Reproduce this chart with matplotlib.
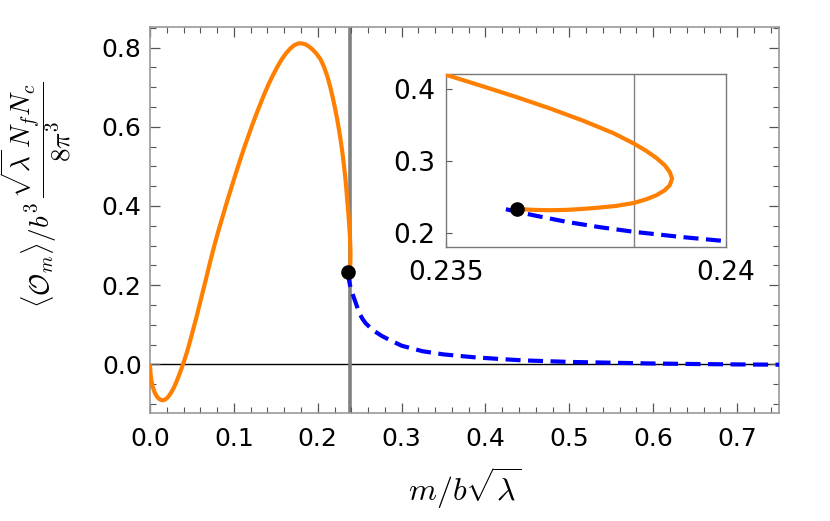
import matplotlib
matplotlib.use("Agg")
import matplotlib.pyplot as plt
from matplotlib.ticker import MultipleLocator, FixedLocator

plt.rcParams['mathtext.fontset'] = 'cm'
plt.rcParams['font.family'] = ['DejaVu Sans']

# stable (orange) branch
orange_x = [0.0, 0.0005, 0.0015, 0.003, 0.005, 0.0075, 0.010, 0.0125, 0.015, 0.0175,
            0.020, 0.0225, 0.025, 0.028, 0.031, 0.034, 0.037, 0.040, 0.044, 0.048,
            0.052, 0.056, 0.060, 0.064, 0.068, 0.072, 0.077, 0.082, 0.087, 0.092,
            0.097, 0.102, 0.107, 0.112, 0.117, 0.122, 0.127, 0.132, 0.137, 0.142,
            0.147, 0.152, 0.157, 0.162, 0.167, 0.172, 0.177, 0.181, 0.185, 0.189,
            0.1937, 0.1985, 0.2035, 0.2077, 0.2115, 0.2150, 0.2180, 0.2207, 0.2232,
            0.2254, 0.2274, 0.2292, 0.2308, 0.2320, 0.2332, 0.2342,
            0.235, 0.235667, 0.236262, 0.236857, 0.237452, 0.237988, 0.238363,
            0.238583, 0.238762, 0.238911, 0.239, 0.239042, 0.239, 0.238911,
            0.238762, 0.238583, 0.238363, 0.238048, 0.23775, 0.237452, 0.237155,
            0.236857, 0.23656, 0.236274]
orange_y = [0.0, -0.020, -0.038, -0.055, -0.068, -0.079, -0.086, -0.0895, -0.091, -0.0895,
            -0.086, -0.080, -0.072, -0.061, -0.047, -0.031, -0.014, 0.004, 0.030, 0.060,
            0.092, 0.124, 0.158, 0.192, 0.226, 0.261, 0.302, 0.340, 0.376, 0.412,
            0.446, 0.480, 0.513, 0.545, 0.575, 0.605, 0.633, 0.660, 0.686, 0.710,
            0.732, 0.752, 0.770, 0.785, 0.797, 0.806, 0.8105, 0.8105, 0.8085, 0.8035,
            0.7955, 0.7845, 0.770, 0.750, 0.727, 0.700, 0.673, 0.646, 0.619,
            0.592, 0.565, 0.538, 0.511, 0.488, 0.464, 0.441,
            0.4194, 0.4032, 0.38846, 0.37276, 0.35568, 0.33860, 0.32382,
            0.31367, 0.30397, 0.29381, 0.28458, 0.27535, 0.26611, 0.25919,
            0.25226, 0.24672, 0.24164, 0.23749, 0.23518, 0.23333, 0.23195,
            0.23149, 0.23195, 0.23333]

# unstable (blue dashed) branch
blue_x = [0.236071, 0.23656, 0.237155, 0.23775, 0.238363, 0.239179, 0.240, 0.2425,
          0.245, 0.2497, 0.253, 0.257, 0.2655, 0.2765, 0.2857, 0.30, 0.325, 0.35,
          0.385, 0.42, 0.444, 0.50, 0.55, 0.60, 0.65, 0.70, 0.75]
blue_y = [0.23287, 0.22456, 0.21533, 0.20794, 0.20148, 0.19455, 0.18855, 0.172,
          0.157, 0.129, 0.116, 0.104, 0.0866, 0.0715, 0.0614, 0.047, 0.033, 0.025,
          0.018, 0.013, 0.010, 0.006, 0.004, 0.002, 0.0007, -0.0003, -0.001]

transition_x = 0.23836
dot_x, dot_y = 0.236274, 0.23333

ORANGE = '#FF8000'
BLUE = '#0000FF'
FRAME = '#999999'

fig = plt.figure(figsize=(8.30, 5.21), dpi=100)
ax = fig.add_axes([0.1807, 0.2073, 0.9386 - 0.1807, 0.9482 - 0.2073])

ax.axhline(0, color='black', lw=1.0, zorder=1)
ax.axvline(transition_x, color='#808080', lw=2.6, zorder=1)
ax.plot(orange_x, orange_y, color=ORANGE, lw=3.0, solid_capstyle='butt',
        solid_joinstyle='round', zorder=3)
ax.plot(blue_x, blue_y, color=BLUE, lw=3.0, dashes=(3.6, 1.8),
        dash_capstyle='butt', zorder=3)
ax.plot([dot_x], [dot_y], 'o', color='black', ms=9.5, zorder=4)

ax.set_xlim(0, 0.75)
ax.set_ylim(-0.123, 0.852)
ax.xaxis.set_major_locator(MultipleLocator(0.1))
ax.xaxis.set_minor_locator(MultipleLocator(0.02))
ax.yaxis.set_major_locator(MultipleLocator(0.2))
ax.yaxis.set_minor_locator(MultipleLocator(0.05))
ax.xaxis.set_major_formatter(plt.FuncFormatter(lambda v, p: f"{v:.1f}"))
ax.yaxis.set_major_formatter(plt.FuncFormatter(lambda v, p: f"{v:.1f}"))
ax.tick_params(which='both', direction='in', top=True, right=True,
               color='#555555', labelsize=18)
ax.tick_params(axis='x', pad=10)
ax.tick_params(axis='y', pad=6)
ax.tick_params(which='major', length=7, width=0.9)
ax.tick_params(which='minor', length=4, width=0.8)
for s in ax.spines.values():
    s.set_color(FRAME)
    s.set_linewidth(1.2)

ax.set_xlabel(r'$m/b\sqrt{\lambda}$', fontsize=23, labelpad=10)
ax.set_ylabel(r'$\langle \mathcal{O}_m \rangle / b^3 \, \dfrac{\sqrt{\lambda}\, N_f N_c}{8\pi^3}$',
              fontsize=19.5)
ax.yaxis.set_label_coords(-0.122, 0.565)

# inset
ins = fig.add_axes([0.5373, 0.5253, 0.337, 0.332])
ins.axvline(transition_x, color='#808080', lw=1.0, zorder=1)
ins.plot(orange_x, orange_y, color=ORANGE, lw=3.0, solid_joinstyle='round', zorder=3)
ins.plot(blue_x, blue_y, color=BLUE, lw=3.0, dashes=(3.6, 1.8),
         dash_capstyle='butt', zorder=3)
ins.plot([dot_x], [dot_y], 'o', color='black', ms=9.5, zorder=4)
ins.set_xlim(0.235, 0.240)
ins.set_ylim(0.18, 0.42)
ins.xaxis.set_major_locator(FixedLocator([0.235, 0.24]))
ins.yaxis.set_major_locator(FixedLocator([0.2, 0.3, 0.4]))
ins.set_xticklabels(['0.235', '0.24'])
ins.set_yticklabels(['0.2', '0.3', '0.4'])
ins.tick_params(direction='in', length=4, width=0.8, color='#555555',
                labelsize=19)
ins.tick_params(axis='x', pad=9)
ins.tick_params(axis='y', pad=8)
for s in ins.spines.values():
    s.set_color('#777777')
    s.set_linewidth(1.0)

fig.savefig('out.png', dpi=100)
